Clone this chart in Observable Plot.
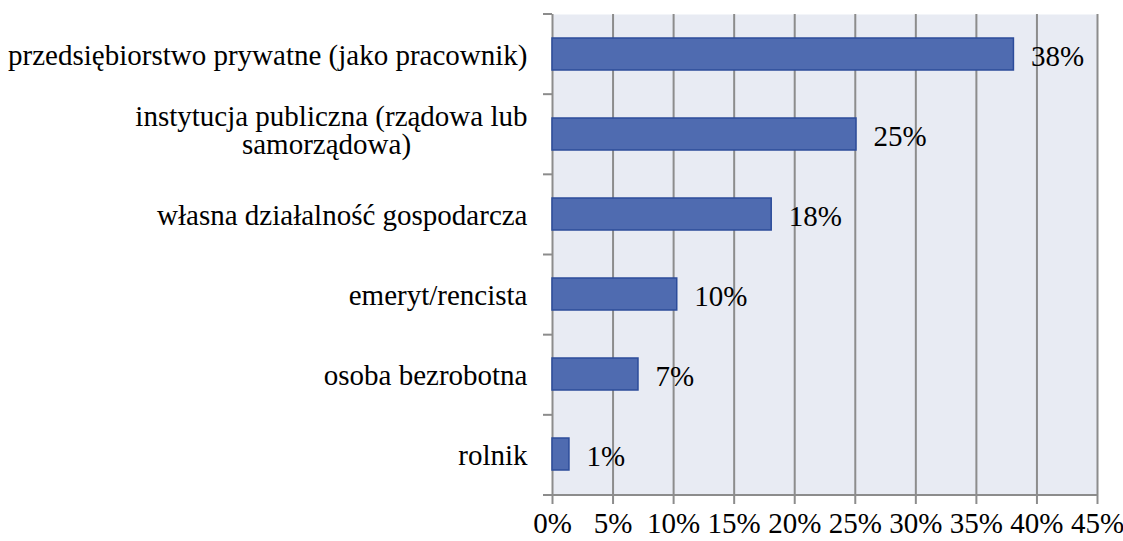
<!DOCTYPE html>
<html>
<head>
<meta charset="utf-8">
<script src="https://cdn.jsdelivr.net/npm/d3@7"></script>
<script src="https://cdn.jsdelivr.net/npm/@observablehq/plot@0.6"></script>
<style>
  html, body { margin: 0; padding: 0; background: #ffffff; }
  #chart { width: 1123px; height: 541px; }
</style>
</head>
<body>
<div id="chart"></div>
<script>
// ---- data ----
const categories = [
  "przedsiębiorstwo prywatne (jako pracownik)",
  "instytucja publiczna (rządowa lub samorządowa)",
  "własna działalność gospodarcza",
  "emeryt/rencista",
  "osoba bezrobotna",
  "rolnik"
];
// bar lengths (%)
const values = [38.1, 25.1, 18.1, 10.3, 7.1, 1.4];
// printed data labels
const valueLabels = ["38%", "25%", "18%", "10%", "7%", "1%"];
// category label lines as printed
const labelLine1 = [
  "przedsiębiorstwo prywatne (jako pracownik)",
  "instytucja publiczna (rządowa lub",
  "własna działalność gospodarcza",
  "emeryt/rencista",
  "osoba bezrobotna",
  "rolnik"
];
const labelLine2 = ["", "samorządowa)", "", "", "", ""];
const xTicks = [0, 5, 10, 15, 20, 25, 30, 35, 40, 45];

const data = categories.map((c, i) => ({
  cat: c, value: values[i], label: valueLabels[i], l1: labelLine1[i], l2: labelLine2[i]
}));
const single = data.filter(d => !d.l2);
const wrapped = data.filter(d => d.l2);

const W = 1123, H = 541, ML = 552, MR = 26, MT = 14, MB = 46;
const FONT = "Liberation Serif";
const FS = 29;
const GRID = "#8c8c8c";

const boundaryTicks = (index, scales, values, dim) => {
  const g = d3.create("svg:g");
  const n = categories.length;
  const plotH = dim.height - dim.marginTop - dim.marginBottom;
  const x0 = dim.marginLeft;
  for (let i = 0; i <= n; i++) {
    const y = dim.marginTop + plotH * i / n;
    g.append("line").attr("x1", x0 - 9).attr("x2", x0).attr("y1", y).attr("y2", y)
      .attr("stroke", GRID).attr("stroke-width", 2);
  }
  const yb = dim.height - dim.marginBottom;
  g.append("line").attr("x1", x0 - 9).attr("x2", dim.width - dim.marginRight + 1)
    .attr("y1", yb).attr("y2", yb).attr("stroke", GRID).attr("stroke-width", 2);
  return g.node();
};

const chart = Plot.plot({
  width: W, height: H,
  marginLeft: ML, marginRight: MR, marginTop: MT, marginBottom: MB,
  style: { fontFamily: FONT, fontSize: FS + "px", color: "#000", background: "#ffffff" },
  x: { domain: [0, 45], axis: null },
  y: { domain: categories, paddingInner: 0.596, paddingOuter: 0.3, axis: null },
  marks: [
    Plot.frame({ fill: "#e8ebf3", stroke: null }),
    Plot.gridX(xTicks, { stroke: GRID, strokeOpacity: 1, strokeWidth: 2 }),
    Plot.axisX(xTicks, {
      tickFormat: d => d + "%", tickSize: 9, tickPadding: 8,
      stroke: GRID, strokeWidth: 2, fontSize: FS, fill: "#000", label: null
    }),
    boundaryTicks,
    Plot.barX(data, {
      x: "value", y: "cat", fill: "#4f6bb0", stroke: "#2c4c9a", strokeWidth: 1.5
    }),
    Plot.text(data, {
      x: "value", y: "cat", text: "label", textAnchor: "start", dx: 17, dy: 2,
      fontSize: FS, fill: "#000"
    }),
    Plot.text(single, {
      y: "cat", text: "l1", frameAnchor: "left", textAnchor: "end", dx: -25, dy: 1,
      fontSize: FS, fill: "#000"
    }),
    Plot.text(wrapped, {
      y: "cat", text: "l1", frameAnchor: "left", textAnchor: "end", dx: -25, dy: -17.5,
      fontSize: FS, fill: "#000"
    }),
    Plot.text(wrapped, {
      y: "cat", text: "l2", frameAnchor: "left", textAnchor: "middle", dx: -226, dy: 10.5,
      fontSize: FS, fill: "#000"
    })
  ]
});
document.getElementById("chart").appendChild(chart);
</script>
</body>
</html>
